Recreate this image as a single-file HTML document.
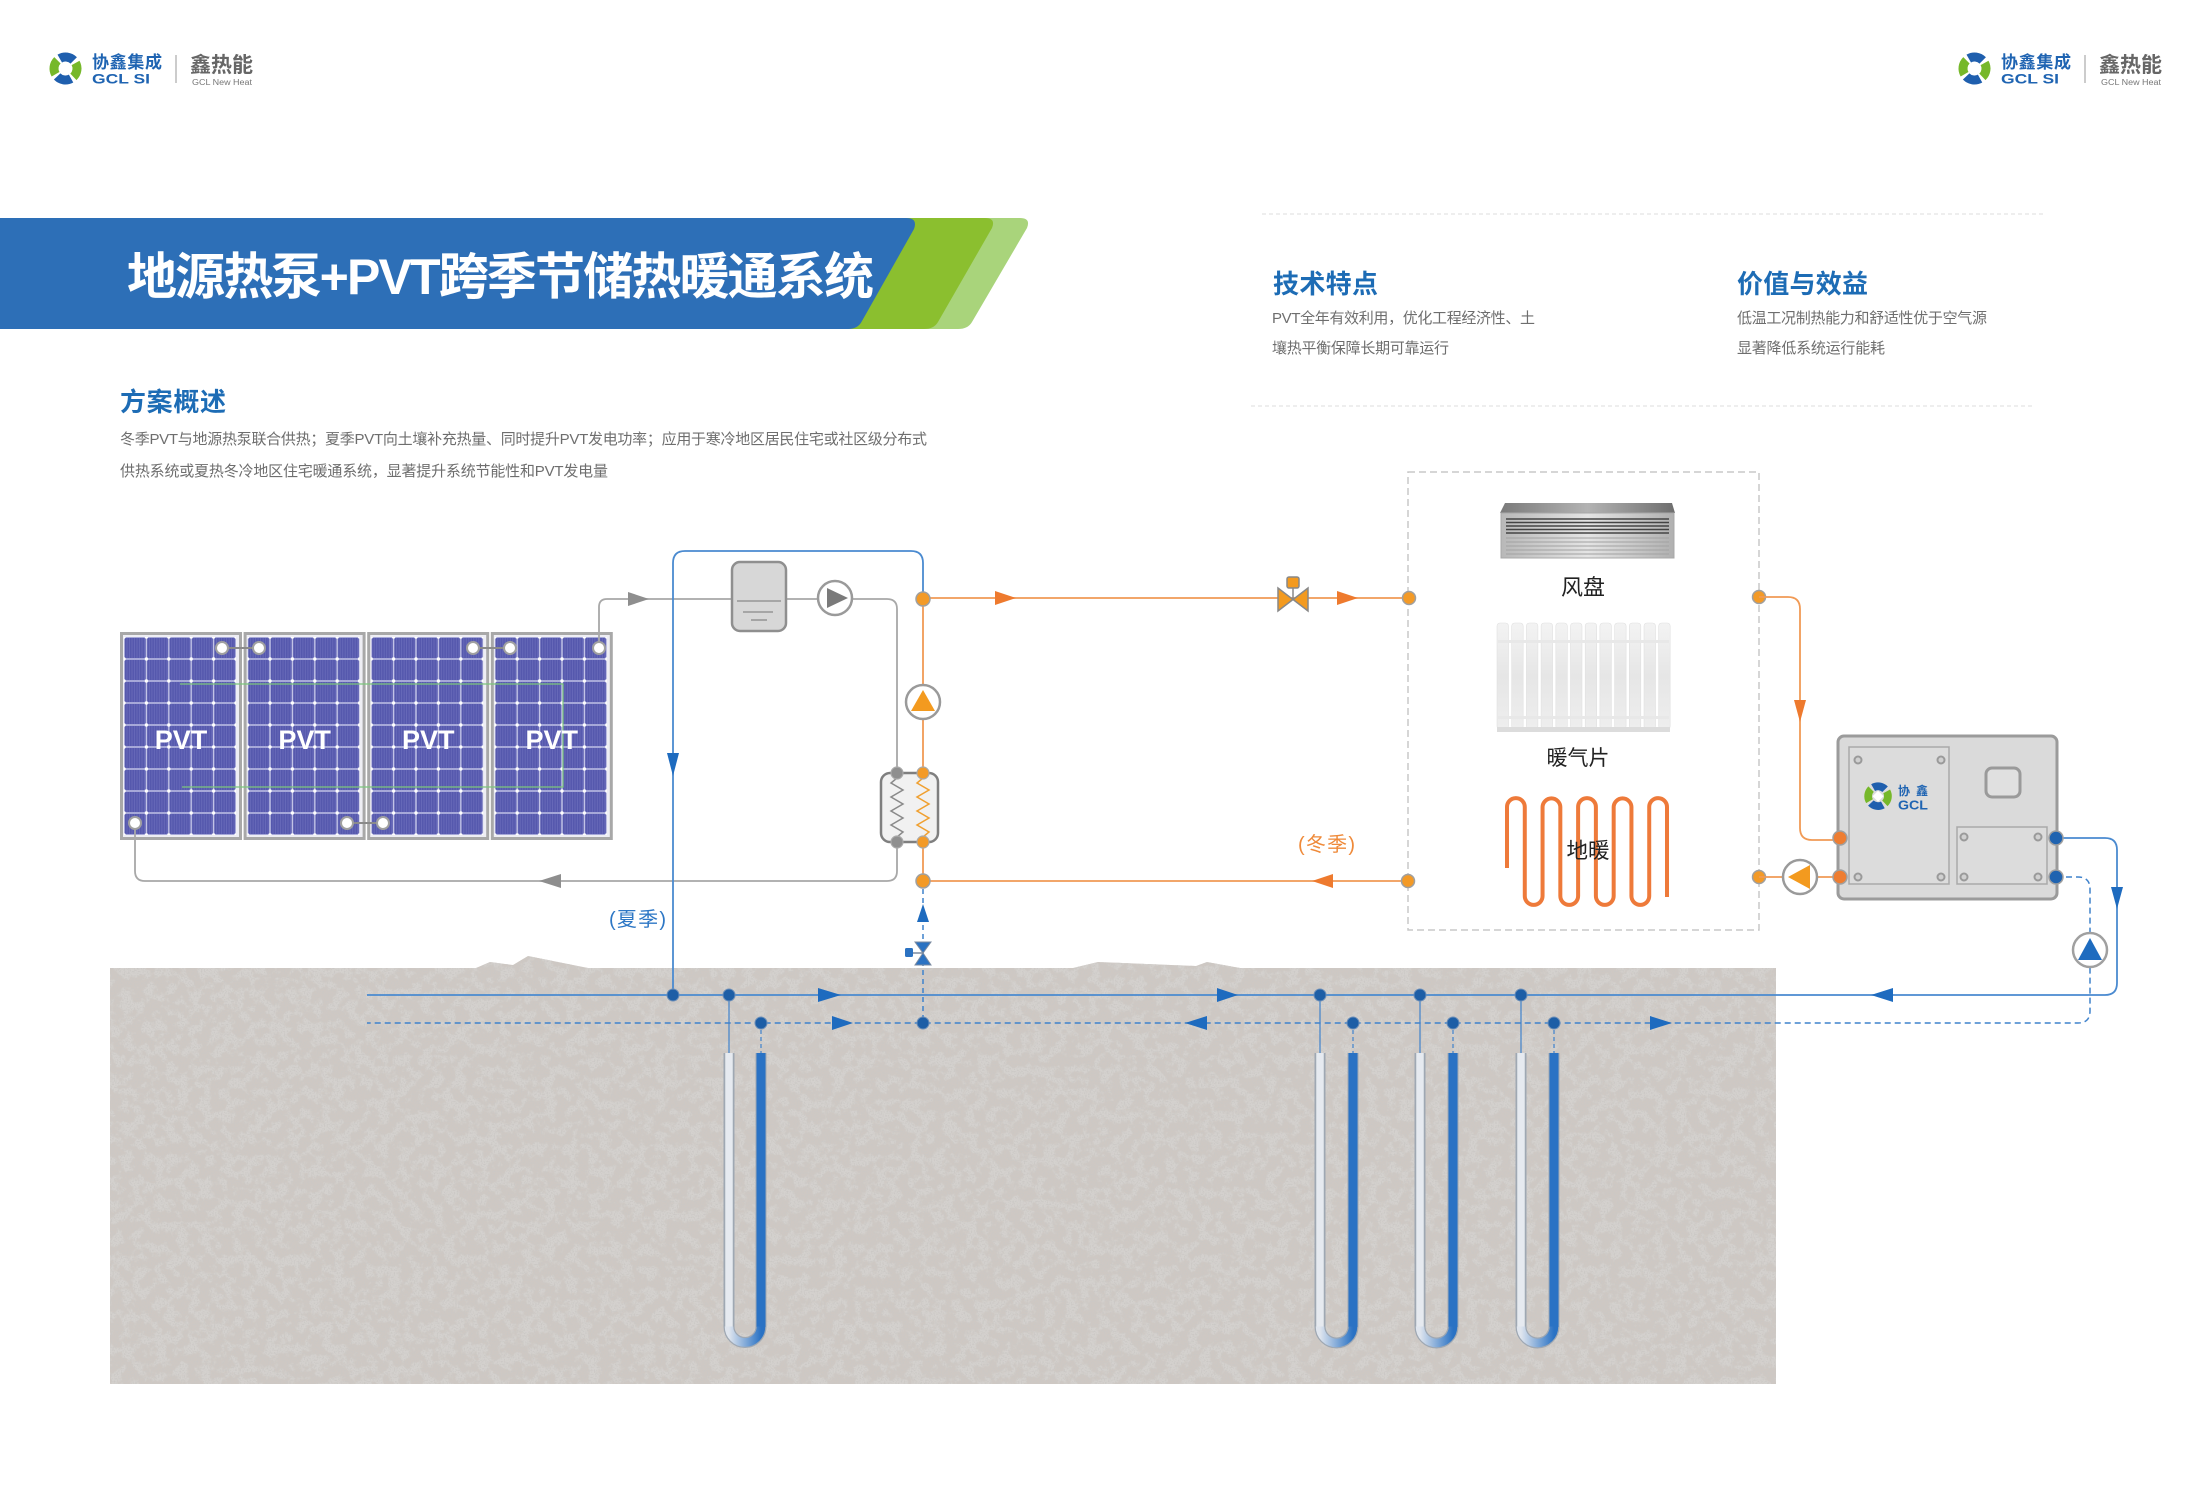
<!DOCTYPE html>
<html><head><meta charset="utf-8"><style>
html,body{margin:0;padding:0;background:#fff;}
svg{display:block;}
text{font-family:"Liberation Sans","Noto Sans CJK SC",sans-serif;}
</style></head><body>
<svg width="2200" height="1492" viewBox="0 0 2200 1492" xmlns="http://www.w3.org/2000/svg">
<defs>
  <pattern id="cell" x="4" y="5" width="22.4" height="22" patternUnits="userSpaceOnUse">
    <rect width="22.4" height="22" fill="#c9caea"/>
    <rect x="0.7" y="0.7" width="21" height="20.6" fill="#5558ad"/>
    <path d="M3,1V21M5.5,1V21M8,1V21M10.5,1V21M13,1V21M15.5,1V21M18,1V21M20.5,1V21" stroke="#6a6cbb" stroke-width="0.8"/>
    <circle cx="0" cy="0" r="1.7" fill="#fff"/><circle cx="22.4" cy="0" r="1.7" fill="#fff"/>
    <circle cx="0" cy="22" r="1.7" fill="#fff"/><circle cx="22.4" cy="22" r="1.7" fill="#fff"/>
  </pattern>
  <g id="panel">
    <rect x="1.5" y="1.5" width="119" height="205" fill="#eeeef4" stroke="#a8a8a8" stroke-width="3"/>
    <rect x="4" y="5" width="112" height="198" fill="url(#cell)"/>
  </g>
  <g id="licon">
    <circle cx="17.5" cy="16.5" r="11.5" fill="none" stroke="#76b82a" stroke-width="9" stroke-dasharray="15 21.1" transform="rotate(150 17.5 16.5)"/>
    <circle cx="17.5" cy="16.5" r="11.5" fill="none" stroke="#1f5fae" stroke-width="9" stroke-dasharray="15 21.1" transform="rotate(240 17.5 16.5)"/>
    <rect x="13" y="12" width="9" height="9" fill="#fff" transform="rotate(45 17.5 16.5)"/>
  </g>
  <linearGradient id="fcTop" x1="0" x2="1"><stop offset="0" stop-color="#7a7a7a"/><stop offset="0.5" stop-color="#b3b3b3"/><stop offset="1" stop-color="#6e6e6e"/></linearGradient>
  <linearGradient id="fcFront" x1="0" x2="1"><stop offset="0" stop-color="#b8b8b8"/><stop offset="0.5" stop-color="#e4e4e4"/><stop offset="1" stop-color="#b0b0b0"/></linearGradient>
  <linearGradient id="fin" x1="0" x2="0" y1="0" y2="1"><stop offset="0" stop-color="#f3f3f3"/><stop offset="0.5" stop-color="#e6e6e6"/><stop offset="1" stop-color="#eeeeee"/></linearGradient>
  <linearGradient id="ug" x1="0" x2="1" y1="0" y2="0"><stop offset="0" stop-color="#dfe5ee"/><stop offset="1" stop-color="#2a72c4"/></linearGradient>
  <filter id="soil" x="0" y="0" width="1" height="1">
    <feTurbulence type="fractalNoise" baseFrequency="0.09" numOctaves="3" seed="7" result="t"/>
    <feColorMatrix in="t" type="matrix" values="0 0 0 0 0.66  0 0 0 0 0.64  0 0 0 0 0.62  7 0 0 0 -3.2" result="c"/>
    <feComposite in="c" in2="SourceGraphic" operator="in"/>
  </filter>
  <filter id="grain" x="0" y="0" width="1" height="1">
    <feTurbulence type="fractalNoise" baseFrequency="0.7" numOctaves="1" seed="3" result="t"/>
    <feColorMatrix in="t" type="matrix" values="0 0 0 0 0.60  0 0 0 0 0.58  0 0 0 0 0.56  4 0 0 0 -1.8" result="c"/>
    <feComposite in="c" in2="SourceGraphic" operator="in"/>
  </filter>
</defs>

<rect width="2200" height="1492" fill="#fff"/>

<!-- Logos -->
<g>
  <use href="#licon" x="48" y="52"/>
  <text x="92" y="68" font-size="17" font-weight="bold" fill="#1f64b2" textLength="70">协鑫集成</text>
  <text x="92" y="83.5" font-size="14" font-weight="bold" fill="#1f64b2" textLength="58" lengthAdjust="spacingAndGlyphs">GCL SI</text>
  <line x1="176" y1="55" x2="176" y2="83" stroke="#999" stroke-width="1"/>
  <text x="190" y="72" font-size="21" font-weight="bold" fill="#666" textLength="63">鑫热能</text>
  <text x="192" y="85" font-size="8" fill="#777" textLength="60" lengthAdjust="spacingAndGlyphs">GCL New Heat</text>
</g>
<g transform="translate(1909,0)">
  <use href="#licon" x="48" y="52"/>
  <text x="92" y="68" font-size="17" font-weight="bold" fill="#1f64b2" textLength="70">协鑫集成</text>
  <text x="92" y="83.5" font-size="14" font-weight="bold" fill="#1f64b2" textLength="58" lengthAdjust="spacingAndGlyphs">GCL SI</text>
  <line x1="176" y1="55" x2="176" y2="83" stroke="#999" stroke-width="1"/>
  <text x="190" y="72" font-size="21" font-weight="bold" fill="#666" textLength="63">鑫热能</text>
  <text x="192" y="85" font-size="8" fill="#777" textLength="60" lengthAdjust="spacingAndGlyphs">GCL New Heat</text>
</g>

<!-- Banner -->
<path d="M880,218 H1020 Q1031,218 1027,228 L972,322 Q968,329 958,329 H820 Z" fill="#a9d47b"/>
<path d="M880,218 H985 Q996,218 992,228 L938,322 Q934,329 924,329 H820 Z" fill="#8bbf2f"/>
<path d="M0,218 H906 Q918,218 914,229 L862,321 Q858,329 848,329 H0 Z" fill="#2d6fb7"/>
<text x="127" y="294" font-size="50" font-weight="bold" fill="#fff" textLength="747">地源热泵+PVT跨季节储热暖通系统</text>

<!-- Overview -->
<text x="120" y="411" font-size="26" font-weight="bold" fill="#1d6cb5" textLength="106">方案概述</text>
<text x="120" y="444" font-size="15" fill="#6e6e6e" textLength="807">冬季PVT与地源热泵联合供热；夏季PVT向土壤补充热量、同时提升PVT发电功率；应用于寒冷地区居民住宅或社区级分布式</text>
<text x="120" y="476" font-size="15" fill="#6e6e6e" textLength="488">供热系统或夏热冬冷地区住宅暖通系统，显著提升系统节能性和PVT发电量</text>

<!-- Right info -->
<line x1="1262" y1="214" x2="2043" y2="214" stroke="#dcdcdc" stroke-width="1" stroke-dasharray="4 3"/>
<text x="1273" y="293" font-size="26" font-weight="bold" fill="#1d6cb5" textLength="105">技术特点</text>
<text x="1737" y="293" font-size="26" font-weight="bold" fill="#1d6cb5" textLength="131">价值与效益</text>
<text x="1272" y="323" font-size="15" fill="#6e6e6e" textLength="263">PVT全年有效利用，优化工程经济性、土</text>
<text x="1272" y="353" font-size="15" fill="#6e6e6e" textLength="177">壤热平衡保障长期可靠运行</text>
<text x="1737" y="323" font-size="15" fill="#6e6e6e" textLength="250">低温工况制热能力和舒适性优于空气源</text>
<text x="1737" y="353" font-size="15" fill="#6e6e6e" textLength="148">显著降低系统运行能耗</text>
<line x1="1251" y1="406" x2="2033" y2="406" stroke="#dcdcdc" stroke-width="1" stroke-dasharray="4 3"/>

<!-- Ground -->
<path d="M110,968 H476 L490,962 L513,965 L528,956 L588,968 H1073 L1098,962 L1196,966 L1207,962 L1240,968 H1776 V1384 H110 Z" fill="#cec8c3"/>
<path d="M110,968 H476 L490,962 L513,965 L528,956 L588,968 H1073 L1098,962 L1196,966 L1207,962 L1240,968 H1776 V1384 H110 Z" fill="#000" filter="url(#soil)"/>
<path d="M110,968 H476 L490,962 L513,965 L528,956 L588,968 H1073 L1098,962 L1196,966 L1207,962 L1240,968 H1776 V1384 H110 Z" fill="#000" filter="url(#grain)"/>

<!-- Dashed room box -->
<rect x="1408" y="472" width="351" height="458" fill="none" stroke="#c8c8c8" stroke-width="1.5" stroke-dasharray="7 4"/>

<!-- PVT panels -->
<use href="#panel" x="120" y="632"/>
<use href="#panel" x="243.6" y="632"/>
<use href="#panel" x="367.2" y="632"/>
<use href="#panel" x="490.8" y="632"/>
<g stroke="#7cc67c" stroke-width="1.2" fill="none">
  <path d="M180,684 H563 V787 H182"/>
</g>
<g font-size="27" font-weight="bold" fill="#fff" text-anchor="middle">
  <text x="181" y="749">PVT</text>
  <text x="304.6" y="749">PVT</text>
  <text x="428.2" y="749">PVT</text>
  <text x="551.8" y="749">PVT</text>
</g>
<g stroke="#8a8a8a" stroke-width="2">
  <line x1="222" y1="648" x2="259" y2="648"/>
  <line x1="473" y1="648" x2="510" y2="648"/>
  <line x1="347" y1="823" x2="383" y2="823"/>
</g>

<!-- Gray PVT loop -->
<g fill="none" stroke="#a8a8a8" stroke-width="1.8">
  <path d="M599,642 V607 Q599,599 607,599 H887 Q897,599 897,609 V773"/>
  <path d="M897,842 V871 Q897,881 887,881 H145 Q135,881 135,871 V829"/>
</g>
<polygon points="628,592 649,599 628,606" fill="#8e8e8e"/>
<polygon points="561,874 539,881 561,888" fill="#8e8e8e"/>
<g fill="#fff" stroke="#a0a0a0" stroke-width="2">
  <circle cx="222" cy="648" r="6"/><circle cx="259" cy="648" r="6"/>
  <circle cx="473" cy="648" r="6"/><circle cx="510" cy="648" r="6"/>
  <circle cx="599" cy="648" r="6"/>
  <circle cx="135" cy="823" r="6"/><circle cx="347" cy="823" r="6"/><circle cx="383" cy="823" r="6"/>
</g>

<!-- Tank -->
<rect x="732" y="562" width="54" height="69" rx="8" fill="#d7d7d7" stroke="#8f8f8f" stroke-width="2.5"/>
<g stroke="#888" stroke-width="1.3">
  <line x1="737" y1="601" x2="781" y2="601"/><line x1="743" y1="612" x2="773" y2="612"/><line x1="751" y1="620" x2="767" y2="620"/>
</g>
<!-- Gray pump -->
<circle cx="835" cy="598" r="17" fill="#fff" stroke="#9a9a9a" stroke-width="2.5"/>
<polygon points="827,588 848,598 827,608" fill="#7a7a7a"/>

<!-- Blue summer pipe -->
<path d="M673,995 V563 Q673,551 685,551 H911 Q923,551 923,563 V593" fill="none" stroke="#4a8ad0" stroke-width="1.8"/>
<polygon points="667,753 679,753 673,776" fill="#1e6bbf"/>

<!-- Orange vertical -->
<line x1="923" y1="599" x2="923" y2="881" stroke="#f19a55" stroke-width="1.8"/>
<circle cx="923" cy="702" r="17" fill="#fff" stroke="#9a9a9a" stroke-width="2.5"/>
<polygon points="923,690 935,711 911,711" fill="#f39a1f"/>

<!-- Heat exchanger -->
<rect x="881" y="773" width="57" height="69" rx="9" fill="#f1f1f1" stroke="#7f7f7f" stroke-width="2.5"/>
<path d="M897,778 L891,783 L903,790 L891,797 L903,804 L891,811 L903,818 L891,825 L903,832 L897,837" fill="none" stroke="#8a8a8a" stroke-width="1.5"/>
<path d="M923,778 L917,783 L929,790 L917,797 L929,804 L917,811 L929,818 L917,825 L929,832 L923,837" fill="none" stroke="#f0a030" stroke-width="1.5"/>
<g stroke="#aaa" stroke-width="1.2">
  <circle cx="897" cy="773" r="6" fill="#8f8f8f"/><circle cx="897" cy="842" r="6" fill="#8f8f8f"/>
  <circle cx="923" cy="773" r="6" fill="#f39a27"/><circle cx="923" cy="842" r="6" fill="#f39a27"/>
</g>

<!-- Orange horizontal lines -->
<g stroke="#f19a55" stroke-width="1.8">
  <line x1="923" y1="598" x2="1409" y2="598"/>
  <line x1="923" y1="881" x2="1408" y2="881"/>
</g>
<g fill="#ee7a2e">
  <polygon points="995,591 1016,598 995,605"/>
  <polygon points="1337,591 1358,598 1337,605"/>
  <polygon points="1333,874 1312,881 1333,888"/>
</g>
<!-- orange valve -->
<line x1="1293" y1="588" x2="1293" y2="599" stroke="#888" stroke-width="1.5"/>
<rect x="1287" y="577" width="12" height="11" rx="2" fill="#f39a1f" stroke="#888" stroke-width="1.5"/>
<polygon points="1278,588 1278,611 1293,599.5" fill="#f39a1f" stroke="#888" stroke-width="1.5"/>
<polygon points="1308,588 1308,611 1293,599.5" fill="#f39a1f" stroke="#888" stroke-width="1.5"/>
<text x="1298" y="851" font-size="20" fill="#ef8a3a" textLength="57">(冬季)</text>

<!-- Orange nodes -->
<g fill="#f39a27" stroke="#a0a0a0" stroke-width="1.5">
  <circle cx="923" cy="599" r="7"/><circle cx="923" cy="881" r="7"/>
  <circle cx="1409" cy="598" r="6.5"/><circle cx="1408" cy="881" r="6.5"/>
  <circle cx="1759" cy="597" r="6.5"/><circle cx="1759" cy="877" r="6.5"/>
</g>

<!-- Blue dashed valve line -->
<line x1="923" y1="889" x2="923" y2="1023" stroke="#3f82cc" stroke-width="1.5" stroke-dasharray="5 4"/>
<polygon points="917,922 929,922 923,904" fill="#1e6bbf"/>
<line x1="912" y1="953" x2="923" y2="953" stroke="#7a8aa0" stroke-width="1.5"/>
<rect x="905" y="948" width="8" height="9" rx="1.5" fill="#2b72c2"/>
<polygon points="915,942 931,942 923,953" fill="#2b72c2" stroke="#7a8aa0" stroke-width="1"/>
<polygon points="915,965 931,965 923,953" fill="#2b72c2" stroke="#7a8aa0" stroke-width="1"/>
<text x="609" y="926" font-size="20" fill="#2d77c5" textLength="57">(夏季)</text>

<!-- Fan coil -->
<polygon points="1505,503 1672,503 1675,513 1500,513" fill="url(#fcTop)"/>
<rect x="1501" y="513" width="173" height="45" fill="url(#fcFront)" stroke="#a8a8a8" stroke-width="1"/>
<g stroke="#444" stroke-width="1.6">
  <line x1="1506" y1="519" x2="1669" y2="519"/><line x1="1506" y1="522.5" x2="1669" y2="522.5"/>
  <line x1="1506" y1="526" x2="1669" y2="526"/><line x1="1506" y1="529.5" x2="1669" y2="529.5"/>
  <line x1="1506" y1="533" x2="1669" y2="533"/>
</g>
<g stroke="#a2a2a2" stroke-width="1">
  <line x1="1506" y1="538" x2="1669" y2="538"/><line x1="1506" y1="542" x2="1669" y2="542"/>
  <line x1="1506" y1="546" x2="1669" y2="546"/><line x1="1506" y1="550" x2="1669" y2="550"/>
  <line x1="1506" y1="554" x2="1669" y2="554"/>
</g>
<text x="1583" y="595" font-size="22" fill="#222" text-anchor="middle">风盘</text>

<!-- Radiator -->
<g fill="url(#fin)" stroke="#e0e0e0" stroke-width="0.6">
  <rect x="1497" y="623" width="11.5" height="106" rx="3"/>
  <rect x="1511.7" y="623" width="11.5" height="106" rx="3"/>
  <rect x="1526.4" y="623" width="11.5" height="106" rx="3"/>
  <rect x="1541.1" y="623" width="11.5" height="106" rx="3"/>
  <rect x="1555.8" y="623" width="11.5" height="106" rx="3"/>
  <rect x="1570.5" y="623" width="11.5" height="106" rx="3"/>
  <rect x="1585.2" y="623" width="11.5" height="106" rx="3"/>
  <rect x="1599.9" y="623" width="11.5" height="106" rx="3"/>
  <rect x="1614.6" y="623" width="11.5" height="106" rx="3"/>
  <rect x="1629.3" y="623" width="11.5" height="106" rx="3"/>
  <rect x="1644" y="623" width="11.5" height="106" rx="3"/>
  <rect x="1658.7" y="623" width="11.5" height="106" rx="3"/>
</g>
<rect x="1498" y="640" width="171" height="3" fill="#e8e8e8"/>
<rect x="1498" y="716" width="171" height="3" fill="#e8e8e8"/>
<rect x="1497" y="727" width="173" height="5" fill="#dcdcdc"/>
<text x="1578" y="765" font-size="21" fill="#222" text-anchor="middle">暖气片</text>

<!-- Floor heating -->
<path d="M1507,868 V807 A8.89,8.89 0 0 1 1524.78,807 V896 A8.89,8.89 0 0 0 1542.56,896 V807 A8.89,8.89 0 0 1 1560.33,807 V896 A8.89,8.89 0 0 0 1578.11,896 V807 A8.89,8.89 0 0 1 1595.89,807 V896 A8.89,8.89 0 0 0 1613.67,896 V807 A8.89,8.89 0 0 1 1631.44,807 V896 A8.89,8.89 0 0 0 1649.22,896 V807 A8.89,8.89 0 0 1 1667,807 V897" fill="none" stroke="#ee7a3a" stroke-width="4"/>
<text x="1588" y="858" font-size="21.5" fill="#222" text-anchor="middle">地暖</text>

<!-- Right orange pipes -->
<path d="M1759,597 H1788 Q1800,597 1800,609 V828 Q1800,840 1812,840 H1839" fill="none" stroke="#f19a55" stroke-width="1.8"/>
<polygon points="1794,700 1806,700 1800,722" fill="#ee7a2e"/>
<line x1="1759" y1="877" x2="1839" y2="877" stroke="#f19a55" stroke-width="1.8"/>
<circle cx="1800" cy="877" r="17" fill="#fff" stroke="#9a9a9a" stroke-width="2.5"/>
<polygon points="1788,877 1810,865 1810,889" fill="#f39a1f"/>

<!-- Heat pump unit -->
<rect x="1838" y="736" width="219" height="163" rx="6" fill="#dadada" stroke="#9b9b9b" stroke-width="3"/>
<rect x="1849" y="747" width="100" height="137" fill="#dcdcdc" stroke="#a9a9a9" stroke-width="1.5"/>
<rect x="1957" y="827" width="90" height="57" fill="#dcdcdc" stroke="#a9a9a9" stroke-width="1.5"/>
<rect x="1986" y="768" width="34" height="29" rx="6" fill="#e0e0e0" stroke="#9a9a9a" stroke-width="3"/>
<g fill="#d0d0d0" stroke="#9a9a9a" stroke-width="2">
  <circle cx="1858" cy="760" r="3.5"/><circle cx="1941" cy="760" r="3.5"/>
  <circle cx="1858" cy="877" r="3.5"/><circle cx="1941" cy="877" r="3.5"/>
  <circle cx="1964" cy="837" r="3.5"/><circle cx="2038" cy="837" r="3.5"/>
  <circle cx="1964" cy="877" r="3.5"/><circle cx="2038" cy="877" r="3.5"/>
</g>
<use href="#licon" transform="translate(1863,782) scale(0.86)"/>
<text x="1898" y="795" font-size="12" font-weight="bold" fill="#1f64b2" textLength="30">协鑫</text>
<text x="1898" y="809.5" font-size="13" font-weight="bold" fill="#1f64b2" textLength="30" lengthAdjust="spacingAndGlyphs">GCL</text>
<g fill="#ee7d31" stroke="#a0a0a0" stroke-width="1.5">
  <circle cx="1840" cy="838" r="7"/><circle cx="1840" cy="877" r="7"/>
</g>

<!-- Blue ground loop -->
<path d="M2056,838 H2105 Q2117,838 2117,850 V983 Q2117,995 2105,995 H367" fill="none" stroke="#4a8ad0" stroke-width="1.8"/>
<path d="M2056,877 H2078 Q2090,877 2090,889 V1011 Q2090,1023 2078,1023 H367" fill="none" stroke="#3f82cc" stroke-width="1.5" stroke-dasharray="6 4"/>
<circle cx="2090" cy="950" r="17" fill="#fff" stroke="#a0a0a0" stroke-width="2.5"/>
<polygon points="2090,938 2102,960 2078,960" fill="#1e6bbf"/>
<g fill="#1e6bbf">
  <polygon points="2111,887 2123,887 2117,909"/>
  <polygon points="1893,988 1871,995 1893,1002"/>
  <polygon points="818,988 841,995 818,1002"/>
  <polygon points="1217,988 1238,995 1217,1002"/>
  <polygon points="832,1016 853,1023 832,1030"/>
  <polygon points="1207,1016 1185,1023 1207,1030"/>
  <polygon points="1650,1016 1672,1023 1650,1030"/>
</g>
<g fill="#1f63b0" stroke="#a0a0a0" stroke-width="1.5">
  <circle cx="2056" cy="838" r="7"/><circle cx="2056" cy="877" r="7"/>
</g>

<!-- U tubes -->
<g>
  <g stroke="#3f82cc" stroke-width="1.2">
    <line x1="729" y1="995" x2="729" y2="1053"/>
    <line x1="1320" y1="995" x2="1320" y2="1053"/>
    <line x1="1420" y1="995" x2="1420" y2="1053"/>
    <line x1="1521" y1="995" x2="1521" y2="1053"/>
  </g>
  <g stroke="#3f82cc" stroke-width="1.2" stroke-dasharray="4 3">
    <line x1="761" y1="1023" x2="761" y2="1053"/>
    <line x1="1353" y1="1023" x2="1353" y2="1053"/>
    <line x1="1453" y1="1023" x2="1453" y2="1053"/>
    <line x1="1554" y1="1023" x2="1554" y2="1053"/>
  </g>
  <g fill="none">
    <path d="M729,1053 V1326.5 A16,16 0 0 0 761,1326.5 V1053" stroke="#9fa8b3" stroke-width="11"/>
    <path d="M729,1053 V1327" stroke="#e6eaf0" stroke-width="7.5"/>
    <path d="M761,1053 V1327" stroke="#2a72c4" stroke-width="9"/>
    <path d="M729,1326.5 A16,16 0 0 0 761,1326.5" stroke="url(#ug)" stroke-width="8.5"/>

    <path d="M1320,1053 V1326.5 A16.5,16.5 0 0 0 1353,1326.5 V1053" stroke="#9fa8b3" stroke-width="11"/>
    <path d="M1320,1053 V1327" stroke="#e6eaf0" stroke-width="7.5"/>
    <path d="M1353,1053 V1327" stroke="#2a72c4" stroke-width="9"/>
    <path d="M1320,1326.5 A16.5,16.5 0 0 0 1353,1326.5" stroke="url(#ug)" stroke-width="8.5"/>

    <path d="M1420,1053 V1326.5 A16.5,16.5 0 0 0 1453,1326.5 V1053" stroke="#9fa8b3" stroke-width="11"/>
    <path d="M1420,1053 V1327" stroke="#e6eaf0" stroke-width="7.5"/>
    <path d="M1453,1053 V1327" stroke="#2a72c4" stroke-width="9"/>
    <path d="M1420,1326.5 A16.5,16.5 0 0 0 1453,1326.5" stroke="url(#ug)" stroke-width="8.5"/>

    <path d="M1521,1053 V1326.5 A16.5,16.5 0 0 0 1554,1326.5 V1053" stroke="#9fa8b3" stroke-width="11"/>
    <path d="M1521,1053 V1327" stroke="#e6eaf0" stroke-width="7.5"/>
    <path d="M1554,1053 V1327" stroke="#2a72c4" stroke-width="9"/>
    <path d="M1521,1326.5 A16.5,16.5 0 0 0 1554,1326.5" stroke="url(#ug)" stroke-width="8.5"/>
  </g>
</g>

<!-- Ground nodes -->
<g fill="#1d5ea6" stroke="#6d8fb8" stroke-width="1">
  <circle cx="673" cy="995" r="6"/><circle cx="729" cy="995" r="6"/>
  <circle cx="1320" cy="995" r="6"/><circle cx="1420" cy="995" r="6"/><circle cx="1521" cy="995" r="6"/>
  <circle cx="761" cy="1023" r="6"/><circle cx="923" cy="1023" r="6"/>
  <circle cx="1353" cy="1023" r="6"/><circle cx="1453" cy="1023" r="6"/><circle cx="1554" cy="1023" r="6"/>
</g>
</svg>
</body></html>
